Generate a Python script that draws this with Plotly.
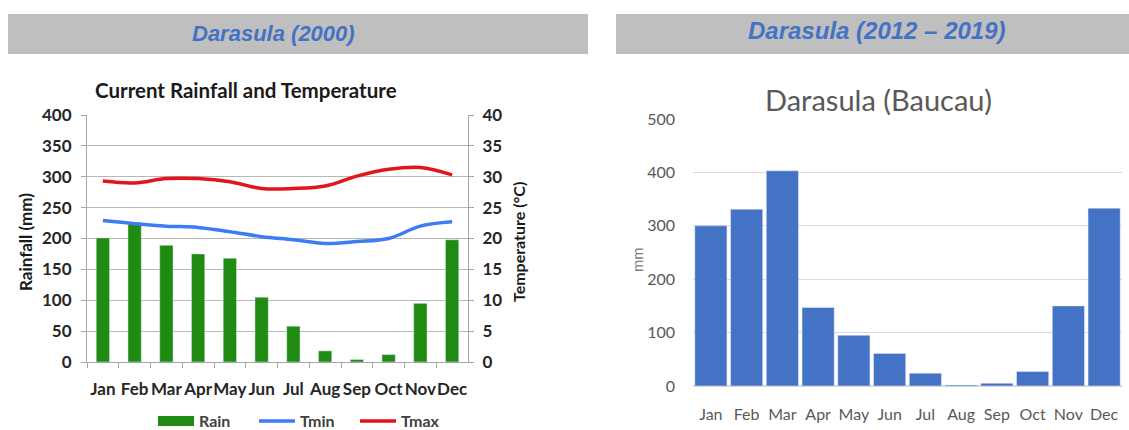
import plotly.graph_objects as go

months = ["Jan", "Feb", "Mar", "Apr", "May", "Jun", "Jul", "Aug", "Sep", "Oct", "Nov", "Dec"]
rain_2000 = [201, 226, 189, 175, 168, 105, 58, 18, 4, 12, 95, 198]
tmin_2000 = [22.9, 22.4, 22.0, 21.8, 21.1, 20.3, 19.8, 19.2, 19.5, 20.0, 22.0, 22.7]
tmax_2000 = [29.3, 29.0, 29.7, 29.7, 29.2, 28.1, 28.1, 28.5, 30.1, 31.2, 31.5, 30.3]
rain_2012_2019 = [300, 331, 403, 147, 95, 61, 24, 2, 5, 27, 150, 333]

W, H = 1129, 430
def px(x):
    return x / W
def py(y):
    return 1 - y / H

FONT = "Lato"
GREEN = "#1F8B12"
BLUE_LINE = "#3D7CF2"
RED_LINE = "#E3141C"
BAR_BLUE = "#4472C4"

fig = go.Figure()

fig.add_trace(go.Bar(x=months, y=rain_2000, name="Rain", marker_color=GREEN,
                     width=0.42, xaxis="x", yaxis="y", showlegend=False))
# legend proxy for the rain bars (wide swatch like the original)
fig.add_trace(go.Scatter(x=[None], y=[None], name="Rain", mode="lines",
                         line=dict(color=GREEN, width=10), xaxis="x", yaxis="y"))
fig.add_trace(go.Scatter(x=months, y=tmin_2000, name="Tmin", mode="lines",
                         line=dict(color=BLUE_LINE, width=3.5, shape="spline"),
                         xaxis="x", yaxis="y2"))
fig.add_trace(go.Scatter(x=months, y=tmax_2000, name="Tmax", mode="lines",
                         line=dict(color=RED_LINE, width=3.5, shape="spline"),
                         xaxis="x", yaxis="y2"))
fig.add_trace(go.Bar(x=months, y=rain_2012_2019, name="mm", marker_color=BAR_BLUE,
                     width=0.9, showlegend=False, xaxis="x2", yaxis="y3"))

left_tick_font = dict(family=FONT, size=17, color="#262626", weight="bold")
right_tick_font = dict(family=FONT, size=16, color="#595959")

fig.update_layout(
    width=W, height=H,
    margin=dict(l=0, r=0, t=0, b=0, autoexpand=False),
    paper_bgcolor="white", plot_bgcolor="white",
    font=dict(family=FONT),
    xaxis=dict(domain=[px(87), px(468)], anchor="y", tickfont=left_tick_font, tickangle=0,
               showline=True, linecolor="#A6A6A6", linewidth=1,
               ticks="outside", tickson="boundaries", ticklen=5, tickcolor="#A6A6A6",
               ticklabelstandoff=12, showgrid=False, fixedrange=True),
    yaxis=dict(domain=[py(362), py(115)], range=[0, 400], dtick=50,
               tickfont=left_tick_font, showgrid=True, gridcolor="#B7B7B7", gridwidth=1,
               showline=True, linecolor="#A6A6A6", ticks="outside", ticklen=5,
               tickcolor="#A6A6A6", ticklabelstandoff=6, zeroline=False, anchor="x"),
    yaxis2=dict(domain=[py(362), py(115)], range=[0, 40], dtick=5, overlaying="y",
                side="right", anchor="x", tickfont=left_tick_font, showgrid=False,
                showline=True, linecolor="#A6A6A6", ticks="outside", ticklen=5,
                tickcolor="#A6A6A6", ticklabelstandoff=5, zeroline=False),
    xaxis2=dict(domain=[px(693), px(1122)], anchor="y3", tickfont=right_tick_font, tickangle=0,
                showline=False, showgrid=False, ticks="", ticklabelstandoff=17, fixedrange=True),
    yaxis3=dict(domain=[py(386), py(119)], range=[0, 500], dtick=100, anchor="x2",
                tickfont=right_tick_font, showgrid=True, gridcolor="#D9D9D9",
                zeroline=True, zerolinecolor="#D9D9D9", showline=False, ticks="",
                ticklabelstandoff=17),
    legend=dict(orientation="h", x=px(153), xanchor="left", y=py(421), yanchor="middle",
                font=dict(family=FONT, size=16, color="#404040", weight="bold"),
                entrywidth=50, itemwidth=36, bgcolor="rgba(0,0,0,0)"),
    showlegend=True,
    shapes=[
        dict(type="rect", xref="paper", yref="paper", x0=px(8), x1=px(588), y0=py(54), y1=py(14),
             fillcolor="#BFBFBF", line=dict(width=0), layer="below"),
        dict(type="rect", xref="paper", yref="paper", x0=px(616), x1=px(1129), y0=py(54), y1=py(14),
             fillcolor="#BFBFBF", line=dict(width=0), layer="below"),
    ],
    annotations=[
        dict(text="<b><i>Darasula (2000)</i></b>", xref="paper", yref="paper",
             x=px(273), y=py(34), showarrow=False, xanchor="center", yanchor="middle",
             font=dict(family="Liberation Sans", size=22, color="#4472C4")),
        dict(text="<b><i>Darasula (2012 – 2019)</i></b>", xref="paper", yref="paper",
             x=px(877), y=py(31), showarrow=False, xanchor="center", yanchor="middle",
             font=dict(family="Liberation Sans", size=24, color="#4472C4")),
        dict(text="<b>Current Rainfall and Temperature</b>", xref="paper", yref="paper",
             x=px(246), y=py(90), showarrow=False, xanchor="center", yanchor="middle",
             font=dict(family=FONT, size=20.5, color="#1A1A1A")),
        dict(text="<b>Rainfall (mm)</b>", xref="paper", yref="paper",
             x=px(25), y=py(242), showarrow=False, xanchor="center", yanchor="middle",
             textangle=-90, font=dict(family=FONT, size=17, color="#1A1A1A")),
        dict(text="<b>Temperature (°C)</b>", xref="paper", yref="paper",
             x=px(518), y=py(242), showarrow=False, xanchor="center", yanchor="middle",
             textangle=-90, font=dict(family=FONT, size=16, color="#1A1A1A")),
        dict(text="Darasula (Baucau)", xref="paper", yref="paper",
             x=px(878), y=py(100), showarrow=False, xanchor="center", yanchor="middle",
             font=dict(family=FONT, size=29, color="#595959")),
        dict(text="mm", xref="paper", yref="paper",
             x=px(637), y=py(260), showarrow=False, xanchor="center", yanchor="middle",
             textangle=-90, font=dict(family=FONT, size=15, color="#7F7F7F")),
    ],
)

fig.write_html("out.html", config={"displayModeBar": False},
               post_script="document.body.style.margin='0';")
